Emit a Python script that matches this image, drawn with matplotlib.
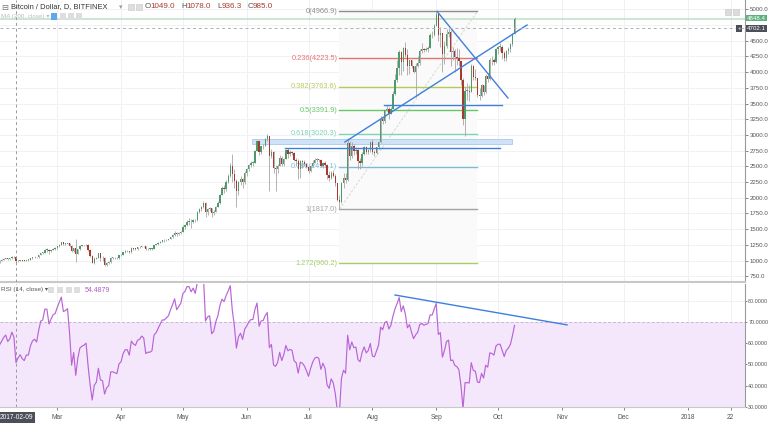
import numpy as np
import pandas as pd
import matplotlib
matplotlib.use('Agg')
import matplotlib.pyplot as plt
import matplotlib.dates as mdates
from matplotlib.patches import Rectangle

plt.rcParams['font.family'] = ['Liberation Sans', 'DejaVu Sans']

# ---------------- data (daily BTC/USD, Bitfinex) ----------------
jan_close = [1000, 1020, 1030, 1130, 1000, 895, 905, 910, 900, 905, 780, 810, 825, 820, 825, 830,
             905, 870, 900, 895, 925, 920, 920, 890, 895, 915, 920, 920, 915, 920, 970]

feb_close = [1000, 1015, 1030, 1040, 1025, 1035, 1060, 1049, 985, 1000, 1010, 1000, 995, 1010, 1010, 1035,
             1050, 1055, 1050, 1085, 1120, 1125, 1175, 1175, 1150, 1170, 1190, 1195]
feb_high = [1010, 1020, 1035, 1045, 1045, 1040, 1065, 1065, 1078, 1005, 1015, 1012, 1005, 1015, 1018, 1040,
            1055, 1065, 1060, 1090, 1125, 1135, 1180, 1200, 1180, 1175, 1195, 1210]
feb_low = [965, 990, 1005, 1020, 1010, 1015, 1030, 1040, 936.3, 975, 995, 990, 985, 990, 1000, 1005,
           1030, 1045, 1040, 1045, 1080, 1100, 1115, 1140, 1110, 1130, 1160, 1170]

mar_close = [1225, 1255, 1290, 1265, 1270, 1280, 1235, 1150, 1195, 1110, 1180, 1230, 1240, 1245, 1255, 1170,
             1070, 965, 1030, 1045, 1115, 1040, 1035, 935, 965, 975, 1045, 1045, 1040, 1035, 1080]
mar_high = [1235, 1260, 1295, 1290, 1275, 1285, 1285, 1240, 1200, 1340, 1190, 1240, 1245, 1250, 1260, 1260,
            1180, 1085, 1060, 1060, 1125, 1120, 1075, 1050, 980, 1000, 1055, 1060, 1060, 1055, 1090]
mar_low = [1190, 1220, 1250, 1240, 1250, 1265, 1210, 1135, 1140, 975, 1100, 1175, 1225, 1235, 1235, 1155,
           1060, 955, 950, 1020, 1040, 1000, 995, 920, 905, 945, 960, 1025, 1020, 1020, 1030]

apr_close = [1090, 1130, 1150, 1150, 1130, 1200, 1190, 1185, 1210, 1215, 1230, 1225, 1180, 1185, 1185,
             1190, 1250, 1260, 1280, 1300, 1320, 1320, 1330, 1340, 1370, 1400, 1440, 1420, 1440, 1460]
apr_high = [1105, 1140, 1165, 1165, 1150, 1210, 1205, 1195, 1215, 1225, 1235, 1235, 1225, 1195, 1195,
            1200, 1255, 1270, 1290, 1310, 1330, 1335, 1340, 1350, 1380, 1415, 1470, 1460, 1450, 1470]
apr_low = [1070, 1085, 1125, 1140, 1120, 1125, 1170, 1175, 1175, 1205, 1215, 1215, 1170, 1165, 1170,
           1175, 1185, 1245, 1255, 1275, 1295, 1300, 1310, 1320, 1335, 1365, 1395, 1390, 1410, 1430]

may_close = [1540, 1560, 1620, 1620, 1610, 1650, 1640, 1780, 1820, 1850, 1920, 1780, 1820, 1830, 1760, 1780,
             1860, 1920, 2050, 2150, 2140, 2250, 2350, 2500, 2370, 2270, 2100, 2250, 2300, 2250, 2400]
may_high = [1560, 1580, 1640, 1680, 1660, 1660, 1660, 1790, 1840, 1870, 1940, 1930, 1830, 1850, 1840, 1800,
            1870, 1940, 2060, 2180, 2200, 2290, 2380, 2550, 2700, 2450, 2300, 2270, 2340, 2320, 2420]
may_low = [1450, 1500, 1550, 1560, 1520, 1600, 1620, 1630, 1760, 1790, 1840, 1700, 1720, 1790, 1700, 1720,
           1770, 1850, 1900, 2040, 2080, 2100, 2240, 2330, 2250, 2150, 1850, 2050, 2200, 2150, 2220]

jun_close = [2450, 2520, 2560, 2560, 2750, 2900, 2720, 2820, 2830, 2930, 2990, 2670, 2720, 2470, 2450,
             2500, 2640, 2540, 2620, 2760, 2700, 2720, 2710, 2600, 2580, 2460, 2580, 2570, 2540, 2490]
jun_high = [2470, 2540, 2580, 2590, 2760, 2920, 2910, 2830, 2860, 2950, 3010, 2990, 2780, 2740, 2520,
            2540, 2680, 2660, 2640, 2780, 2790, 2760, 2740, 2720, 2640, 2620, 2600, 2600, 2600, 2560]
jun_low = [2350, 2430, 2490, 2500, 2550, 2740, 2680, 2700, 2780, 2820, 2910, 2100, 2630, 2400, 2100,
           2390, 2500, 2500, 2510, 2610, 2640, 2660, 2680, 2580, 2500, 2300, 2320, 2480, 2510, 2470]

jul_close = [2430, 2500, 2560, 2600, 2610, 2600, 2510, 2560, 2520, 2360, 2320, 2390, 2350, 2230, 1960, 1930,
             2230, 2320, 2280, 2870, 2670, 2830, 2750, 2760, 2580, 2550, 2700, 2800, 2720, 2760, 2880]
jul_high = [2510, 2520, 2600, 2640, 2640, 2620, 2620, 2570, 2580, 2540, 2420, 2420, 2440, 2380, 2240, 2050,
            2250, 2400, 2400, 2950, 2900, 2880, 2860, 2810, 2780, 2630, 2720, 2820, 2820, 2770, 2900]
jul_low = [2400, 2410, 2490, 2560, 2570, 2570, 2490, 2480, 2500, 2300, 2260, 2300, 2330, 2190, 1950, 1817,
           1920, 2160, 2240, 2270, 2600, 2630, 2680, 2700, 2450, 2460, 2500, 2680, 2700, 2690, 2720]

aug_close = [2720, 2710, 2800, 2890, 3250, 3220, 3390, 3420, 3340, 3420, 3650, 3870, 4060, 4320, 4160, 4380,
             4280, 4100, 4190, 4090, 4000, 4090, 4150, 4340, 4370, 4350, 4370, 4390, 4590, 4590, 4740]
aug_high = [2930, 2760, 2810, 2900, 3300, 3280, 3400, 3480, 3440, 3450, 3700, 3970, 4200, 4350, 4330, 4400,
            4480, 4370, 4200, 4200, 4100, 4140, 4250, 4360, 4470, 4380, 4400, 4410, 4620, 4650, 4760]
aug_low = [2700, 2660, 2700, 2780, 2870, 3180, 3190, 3380, 3260, 3340, 3420, 3640, 3850, 3960, 3950, 4010,
           4240, 3950, 3970, 4060, 3980, 3600, 4080, 4110, 4310, 4320, 4330, 4320, 4380, 4540, 4570]

sep_close = [4920, 4590, 4630, 4290, 4420, 4610, 4640, 4320, 4330, 4240, 4220, 4170, 3880, 3250, 3700,
             3700, 3690, 4100, 3920, 3900, 3630, 3620, 3790, 3680, 3930, 3890, 4200, 4190, 4160, 4360]
sep_high = [4966.9, 4940, 4720, 4630, 4500, 4690, 4700, 4670, 4400, 4360, 4390, 4360, 4180, 3900, 3760,
            3820, 3790, 4130, 4120, 4050, 3910, 3750, 3810, 3800, 3970, 3980, 4220, 4250, 4230, 4380]
sep_low = [4730, 4500, 4400, 4000, 4130, 4380, 4560, 4100, 4200, 4000, 4120, 4100, 3800, 3150, 2980,
           3560, 3540, 3690, 3880, 3880, 3610, 3550, 3600, 3640, 3670, 3850, 3880, 4120, 4110, 4140]

oct_close = [4400, 4400, 4310, 4220, 4330, 4370, 4440, 4610, 4848.4]
oct_high = [4410, 4460, 4430, 4340, 4350, 4400, 4460, 4620, 4880]
oct_low = [4290, 4340, 4210, 4170, 4180, 4290, 4320, 4420, 4600]

first_day = '2017-02-01'

fib_start = ('2017-07-16', 1817.0)
fib_end = ('2017-09-21', 4966.9)
fib_levels = [0, 0.236, 0.382, 0.5, 0.618, 0.786, 1, 1.272]
fib_colors = ['#8c8c8c', '#e57373', '#b6ca5c', '#66c766', '#7dd3b3', '#7fb9da', '#a3a3a3', '#a5ce6a']

trend_up = [('2017-07-18 16:00', 2887), ('2017-10-15 02:00', 4750)]
trend_down = [('2017-09-01 10:00', 4966), ('2017-10-05 19:00', 3588)]
hline_a = [('2017-08-06 14:00', 3476), ('2017-10-02 22:00', 3476)]
hline_b = [('2017-06-19 14:00', 2790), ('2017-10-02 00:00', 2790)]
zone = [('2017-06-03 14:00', 2850), ('2017-10-07 20:00', 2935)]
rsi_trend = [('2017-08-12', 82.7), ('2017-11-03 12:00', 68.6)]

last_price = 4848.4
cross_price = 4702.1
cross_date = '2017-02-09'
rsi_cross_value = '54.4879'

month_ticks = ['2017-03-01', '2017-04-01', '2017-05-01', '2017-06-01', '2017-07-01', '2017-08-01',
               '2017-09-01', '2017-10-01', '2017-11-01', '2017-12-01', '2018-01-01', '2018-01-22']
month_labels = ['Mar', 'Apr', 'May', 'Jun', 'Jul', 'Aug', 'Sep', 'Oct', 'Nov', 'Dec', '2018', '22']
price_ticks = [750, 1000, 1250, 1500, 1750, 2000, 2250, 2500, 2750, 3000, 3250, 3500, 3750, 4000,
               4250, 4500, 4750, 5000]
hidden_price_labels = [4750]   # covered by the crosshair / last-price labels
rsi_ticks = [30, 40, 50, 60, 70, 80]

# ---------------- assemble ----------------
closes = np.array(feb_close + mar_close + apr_close + may_close + jun_close + jul_close +
                  aug_close + sep_close + oct_close, dtype=float)
highs = np.array(feb_high + mar_high + apr_high + may_high + jun_high + jul_high +
                 aug_high + sep_high + oct_high, dtype=float)
lows = np.array(feb_low + mar_low + apr_low + may_low + jun_low + jul_low +
                aug_low + sep_low + oct_low, dtype=float)
opens = np.concatenate([[jan_close[-1]], closes[:-1]])
dates = mdates.date2num(pd.date_range(first_day, periods=len(closes)))

# RSI(14, close) Wilder
allc = np.array(jan_close + list(closes), dtype=float)
d = np.diff(allc)
g = np.clip(d, 0, None)
l = np.clip(-d, 0, None)
ag = g[:14].mean(); al = l[:14].mean()
rsi = [np.nan] * 14
rsi.append(100 - 100 / (1 + ag / al))
for i in range(14, len(d)):
    ag = (ag * 13 + g[i]) / 14
    al = (al * 13 + l[i]) / 14
    rsi.append(100 - 100 / (1 + ag / al))
rsi = np.array(rsi)[len(jan_close):]


def dn(s):
    return mdates.date2num(pd.Timestamp(s))


W, H = 768, 424
fig = plt.figure(figsize=(W / 100, H / 100), dpi=100)
fig.patch.set_facecolor('white')


def fx(x):
    return x / W


def fy(y):
    return 1 - y / H


ax = fig.add_axes([0, fy(282), 745 / W, 282 / H])
ax2 = fig.add_axes([0, fy(407), 745 / W, (407 - 284) / H])

AXFS = 4.4
d0 = dn(cross_date)
ppd = 2.06
xl = (d0 - 16 / ppd, d0 + (745 - 16) / ppd)
for a in (ax, ax2):
    a.set_xlim(*xl)
    a.set_facecolor('white')
    for s in a.spines.values():
        s.set_color('#c8c8c8')
        s.set_linewidth(0.8)
    a.spines['left'].set_visible(False)
    a.spines['top'].set_visible(False)
    a.spines['right'].set_color('#9a9a9a')
    a.yaxis.tick_right()
    for t in month_ticks:
        a.axvline(dn(t), color='#eef0f4', lw=0.7, zorder=0)

ax.tick_params(axis='y', labelsize=AXFS, colors='#555555', length=2, width=0.5, pad=1.2)
ax2.tick_params(axis='y', labelsize=3.9, colors='#555555', length=1.5, width=0.5, pad=0.8)

ax.set_ylim(658, 5148)
ax2.set_ylim(29.86, 87.9)
ax.set_yticks(price_ticks)
ax.set_yticklabels(['' if v in hidden_price_labels else '%.1f' % v for v in price_ticks])
ax2.set_yticks(rsi_ticks)
ax2.set_yticklabels(['%.4f' % v for v in rsi_ticks])
for v in price_ticks:
    ax.axhline(v, color='#f1f2f5', lw=0.7, zorder=0)
for v in rsi_ticks:
    ax2.axhline(v, color='#f1f2f5', lw=0.7, zorder=0)
ax.set_xticks([])
ax.spines['bottom'].set_color('#c8c8c8')
ax.spines['bottom'].set_linewidth(1.5)

ax2.set_xticks([dn(t) for t in month_ticks])
ax2.set_xticklabels(month_labels)
ax2.tick_params(axis='x', labelsize=4.8, colors='#555555', length=2, width=0.5, pad=3)

# ---- fib retracement ----
fx0, fx1 = dn(fib_start[0]), dn(fib_end[0])
p1, p0 = fib_start[1], fib_end[1]
ax.add_patch(Rectangle((fx0, p0 - 1.272 * (p0 - p1)), fx1 - fx0, 1.272 * (p0 - p1),
                       facecolor='#fafafa', edgecolor='none', zorder=0.5))
ax.plot([fx0, fx1], [p1, p0], color='#d2d2d2', lw=0.6, ls=(0, (3, 2)), zorder=1)
for lev, col in zip(fib_levels, fib_colors):
    pv = p0 - lev * (p0 - p1)
    ax.plot([fx0, fx1], [pv, pv], color=col, lw=1.0, zorder=1)
    lab = ('%g(%.1f)' % (lev, pv))
    ax.text(fx0 - 1.0, pv, lab, color=col, fontsize=5.3, ha='right', va='center', zorder=1.5)

# ---- zone ----
z0, z1 = dn(zone[0][0]), dn(zone[1][0])
ax.add_patch(Rectangle((z0, zone[0][1]), z1 - z0, zone[1][1] - zone[0][1],
                       facecolor='#cfe2f7', edgecolor='#a9c9ee', lw=0.6, zorder=1.2))

# ---- candles ----
up = closes >= opens
col = np.where(up, '#4f9a6a', '#a8392f')
ax.vlines(dates, lows, highs, color='#a6a6a6', lw=0.6, zorder=2)
bot = np.minimum(opens, closes)
hgt = np.maximum(np.abs(closes - opens), 8)
ax.bar(dates, hgt, bottom=bot, width=0.66, color=col, linewidth=0, zorder=3)

# ---- drawn lines ----
blue = '#3f7fdc'
for seg in (trend_up, trend_down, hline_a, hline_b):
    ax.plot([dn(seg[0][0]), dn(seg[1][0])], [seg[0][1], seg[1][1]], color=blue, lw=1.0, zorder=4)

# price line and crosshair
ax.axhline(last_price, color='#bfe3cb', lw=1.2, zorder=1.1)
ax.axhline(cross_price, color='#b0b0b0', lw=0.7, ls=(0, (3, 3)), zorder=4)
for a in (ax, ax2):
    a.axvline(d0, color='#9a9a9a', lw=0.7, ls=(0, (3, 3)), zorder=4)

# ---- RSI pane ----
ax2.axhspan(30, 70, color='#f4e7fc', zorder=0.2, lw=0)
ax2.axhline(70, color='#c9b6d6', lw=0.7, ls=(0, (3, 2)), zorder=1)
ax2.axhline(30, color='#c9b6d6', lw=0.7, ls=(0, (3, 2)), zorder=1)
ax2.plot(dates, rsi, color='#b964d6', lw=0.85, zorder=3)
ax2.plot([dn(rsi_trend[0][0]), dn(rsi_trend[1][0])], [rsi_trend[0][1], rsi_trend[1][1]],
         color=blue, lw=1.0, zorder=4)

# ---- header texts ----
fig.text(fx(1), fy(7), '\u229f', fontsize=6, color='#777777', va='center', family=['DejaVu Sans'])
fig.text(fx(11), fy(7), 'Bitcoin / Dollar, D, BITFINEX', fontsize=5.4, color='#333333', va='center')
fig.text(fx(119), fy(7), '\u25be', fontsize=5, color='#999999', va='center', family=['DejaVu Sans'])
for x0 in (128, 136):
    fig.add_artist(Rectangle((fx(x0), fy(10)), 6 / W, 6 / H, transform=fig.transFigure,
                             facecolor='#dedede', edgecolor='#c8c8c8', lw=0.4))
ohlc = [('O', '1049.0', 145), ('H', '1078.0', 181), ('L', '936.3', 217), ('C', '985.0', 248)]
for k, v, x0 in ohlc:
    fig.text(fx(x0), fy(7), k, fontsize=5.8, color='#555555', va='center')
    fig.text(fx(x0 + 5), fy(7), v, fontsize=5.8, color='#a8392f', va='center')

fig.text(fx(1), fy(16.5), 'MA (200, close) \u25be', fontsize=4.5, color='#b8bbc2', va='center',
         family=['Liberation Sans', 'DejaVu Sans'])
for x0, c in ((51, '#5fa8ea'), (60, '#dedede'), (68, '#dedede'), (76, '#dedede')):
    fig.add_artist(Rectangle((fx(x0), fy(19.5)), 6 / W, 6 / H, transform=fig.transFigure,
                             facecolor=c, edgecolor='none'))

fig.text(fx(1), fy(290), 'RSI (14, close) \u25be', fontsize=4.6, color='#555555', va='center')
for x0 in (48, 57, 66, 74):
    fig.add_artist(Rectangle((fx(x0), fy(293)), 6 / W, 6 / H, transform=fig.transFigure,
                             facecolor='#dedede', edgecolor='none'))
fig.text(fx(85), fy(290), rsi_cross_value, fontsize=5.0, color='#b05cc8', va='center')

# top right icons
for x0 in (725, 733):
    fig.add_artist(Rectangle((fx(x0), fy(15)), 6 / W, 6 / H, transform=fig.transFigure,
                             facecolor='#dcdcdc', edgecolor='#c4c4c4', lw=0.4))

# price labels on right axis
ax.annotate('%.1f' % last_price, xy=(1, last_price), xycoords=('axes fraction', 'data'),
            xytext=(1.5, 0.5), textcoords='offset points', fontsize=AXFS, color='white', va='center',
            bbox=dict(boxstyle='square,pad=0.12', fc='#5cb27d', ec='none'), zorder=10,
            annotation_clip=False)
ax.annotate('%.1f' % cross_price, xy=(1, cross_price), xycoords=('axes fraction', 'data'),
            xytext=(1.5, -0.5), textcoords='offset points', fontsize=AXFS, color='white', va='center',
            bbox=dict(boxstyle='square,pad=0.12', fc='#4a4f59', ec='none'), zorder=10,
            annotation_clip=False)
ax.annotate('+', xy=(1, cross_price), xycoords=('axes fraction', 'data'),
            xytext=(-5.5, -0.5), textcoords='offset points', fontsize=4.5, color='white', va='center',
            bbox=dict(boxstyle='square,pad=0.15', fc='#4a4f59', ec='none'), zorder=10,
            annotation_clip=False)

# date crosshair label
ax2.annotate('2017-02-09', xy=(d0, 0), xycoords=('data', 'axes fraction'),
             xytext=(0, -7.5), textcoords='offset points', fontsize=4.8, color='white',
             ha='center', va='center',
             bbox=dict(boxstyle='square,pad=0.35', fc='#4a4f59', ec='none'), zorder=10,
             annotation_clip=False)

fig.savefig('out.png', dpi=100, facecolor='white')
